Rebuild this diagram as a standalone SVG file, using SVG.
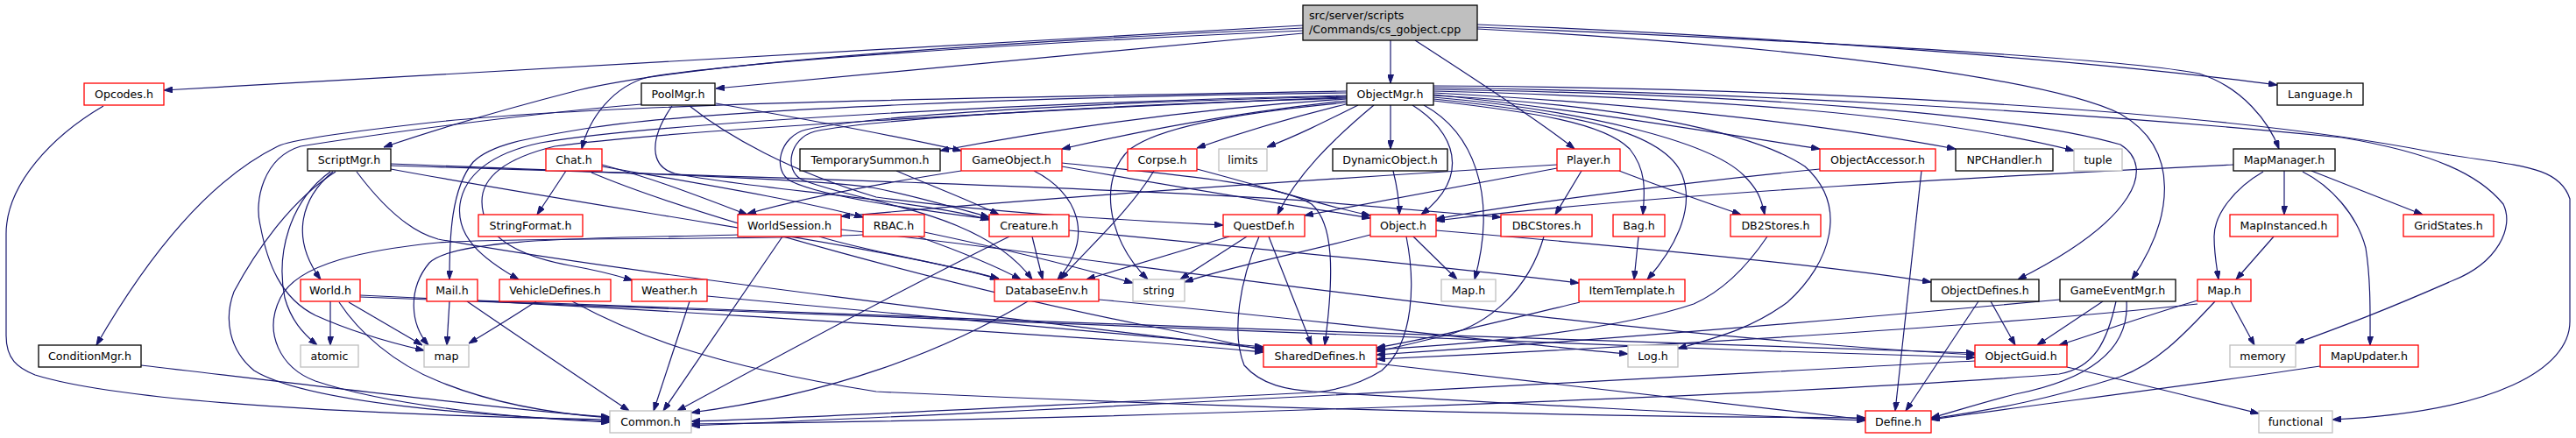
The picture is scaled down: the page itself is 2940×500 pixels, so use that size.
<svg xmlns="http://www.w3.org/2000/svg" width="2940" height="500" viewBox="0 0 2940 500">
<style>
rect{fill:#fff;stroke-width:1.3}
.r{stroke:#ff0000}.k{stroke:#000}.g{stroke:#bfbfbf}
.root{fill:#bfbfbf;stroke:#000}
text{font-family:"DejaVu Sans","Liberation Sans",sans-serif;font-size:12.6px;fill:#000;text-anchor:middle}
#edges path{fill:none;stroke:#191970;stroke-width:1.2;marker-end:url(#a)}
</style>
<defs><marker id="a" viewBox="0 0 10 7" refX="10" refY="3.5" markerWidth="10" markerHeight="7" markerUnits="userSpaceOnUse" orient="auto"><path d="M0,0L10,3.5L0,7z" fill="#191970" stroke="#191970"/></marker></defs>
<rect x="0" y="0" width="2940" height="500" style="fill:#fff;stroke:none"/>
<g id="edges">
<path d="M1487,29L187,103"/>
<path d="M1487,32C1150,48 800,70 660,103C590,121 520,140 438,168"/>
<path d="M1487,35C1150,50 850,70 740,88C700,98 672,135 664,170"/>
<path d="M1487,38L817,101"/>
<path d="M1587,46L1587,95"/>
<path d="M1615,46C1680,88 1760,140 1797,170"/>
<path d="M1686,28C2000,40 2400,70 2599,97"/>
<path d="M1686,31C2100,48 2430,68 2510,84C2560,100 2590,140 2601,170"/>
<path d="M1686,33C2100,55 2350,95 2420,130C2490,170 2480,250 2433,319"/>
<path d="M118,121C60,155 7,210 7,267L7,383C7,410 20,420 40,428C150,462 450,474 696,479"/>
<path d="M817,118C900,133 1000,150 1097,172"/>
<path d="M767,121C740,160 742,190 770,198C850,215 1050,228 1129,251"/>
<path d="M787,121C830,155 900,195 1000,225C1150,245 1300,252 1396,257"/>
<path d="M732,119C620,128 450,150 343,167C300,180 290,230 297,257C305,300 320,340 360,360C400,378 440,390 484,400"/>
<path d="M1537,104C1100,112 700,118 500,139C400,150 330,160 317,167C240,205 170,290 110,394"/>
<path d="M1537,106C1200,110 800,125 667,147C600,158 560,165 540,185C515,215 513,270 513,319"/>
<path d="M1537,109C1200,116 750,140 617,163C560,175 530,200 525,233C520,270 550,295 592,319"/>
<path d="M1537,111C1200,124 750,150 633,167C580,180 550,200 550,230C550,265 580,290 650,303C690,310 705,315 722,320"/>
<path d="M1537,113C1350,125 1200,148 1073,172"/>
<path d="M1537,115C1400,130 1300,150 1212,170"/>
<path d="M1540,118C1470,135 1420,150 1366,169"/>
<path d="M1550,120C1510,140 1480,155 1446,168"/>
<path d="M1537,110C1300,115 1000,130 920,148C890,155 880,195 903,207C940,225 1050,240 1129,250"/>
<path d="M1537,112C1300,118 1000,135 930,150C900,158 895,195 915,205C980,232 1120,240 1178,319"/>
<path d="M1568,120C1520,160 1480,200 1458,245"/>
<path d="M1537,117C1450,125 1330,140 1290,170C1255,200 1260,270 1310,319"/>
<path d="M1587,120L1587,170"/>
<path d="M1612,120C1660,150 1680,200 1622,245"/>
<path d="M1625,120C1680,150 1710,220 1683,319"/>
<path d="M1636,115C1750,128 1830,140 1860,170C1880,195 1877,220 1875,245"/>
<path d="M1636,113C1800,130 1900,150 1920,200C1935,240 1910,285 1880,319"/>
<path d="M1636,111C1800,125 1950,160 1990,200C2005,215 2010,225 2014,245"/>
<path d="M1636,108C1800,125 1950,150 2077,170"/>
<path d="M1636,106C1900,120 2100,145 2232,170"/>
<path d="M1636,104C1950,112 2200,130 2367,172"/>
<path d="M1636,102C2000,108 2300,130 2420,165C2460,190 2440,250 2303,319"/>
<path d="M1636,109C1850,120 2000,150 2060,190C2110,235 2090,300 2040,345C2000,375 1960,385 1915,398"/>
<path d="M1636,100C2000,105 2400,130 2673,157C2780,175 2830,200 2857,233C2870,260 2850,300 2800,320C2720,355 2680,370 2620,392"/>
<path d="M1636,98C2000,100 2500,120 2773,173C2870,190 2920,187 2933,227L2933,367C2933,420 2850,470 2662,479"/>
<path d="M380,196C345,225 330,270 366,319"/>
<path d="M377,196C330,230 315,290 325,340C332,365 345,380 362,394"/>
<path d="M383,196C330,230 290,290 267,333C255,365 262,400 290,423C350,460 550,475 696,481"/>
<path d="M446,187C700,197 950,205 1000,215C1050,225 1100,240 1129,248"/>
<path d="M446,189C800,200 1300,215 1500,230C1600,238 1660,243 1713,248"/>
<path d="M446,193C700,240 1000,280 1140,318"/>
<path d="M407,196C440,240 470,265 500,273C700,310 1200,370 1442,398"/>
<path d="M646,195L613,245"/>
<path d="M687,188C750,205 800,225 853,245"/>
<path d="M687,190C800,210 920,230 985,248"/>
<path d="M675,197C800,250 1100,330 1300,370C1380,385 1420,395 1442,400"/>
<path d="M893,270L757,469"/>
<path d="M842,268C700,272 520,270 490,300C465,330 468,370 489,394"/>
<path d="M935,270C1000,290 1080,300 1140,319"/>
<path d="M960,262C1300,300 1800,380 2254,405"/>
<path d="M985,268C850,275 600,270 500,277C420,285 340,300 320,340C300,380 320,420 360,435C450,465 600,478 696,482"/>
<path d="M1055,265C1150,285 1230,305 1293,323"/>
<path d="M1048,270C1090,285 1130,300 1165,319"/>
<path d="M1178,270L1190,319"/>
<path d="M1152,270C1050,320 900,400 773,469"/>
<path d="M1220,263C1450,285 1650,305 1802,323"/>
<path d="M1097,195C1000,210 920,225 853,244"/>
<path d="M1180,195C1230,220 1250,270 1207,319"/>
<path d="M1212,190C1350,215 1480,235 1564,249"/>
<path d="M1212,186C1350,200 1460,210 1497,233C1522,255 1523,310 1512,394"/>
<path d="M1317,195C1290,240 1240,285 1210,319"/>
<path d="M1366,193C1450,215 1510,235 1564,246"/>
<path d="M1403,270L1240,319"/>
<path d="M1423,270L1347,319"/>
<path d="M1448,270L1497,394"/>
<path d="M1437,270C1415,320 1405,380 1420,417C1440,440 1470,445 1500,447C1700,460 2000,475 2129,480"/>
<path d="M1590,195C1595,215 1597,230 1597,245"/>
<path d="M1613,270L1663,319"/>
<path d="M1564,268C1480,290 1400,305 1352,322"/>
<path d="M1605,270C1615,320 1615,390 1577,423C1550,440 1520,446 1500,448C1200,462 950,476 789,481"/>
<path d="M1639,263C1900,285 2100,305 2204,322"/>
<path d="M1805,195L1775,245"/>
<path d="M1848,195C1900,215 1950,232 1987,245"/>
<path d="M1777,192C1650,215 1560,232 1489,246"/>
<path d="M1777,188C1500,205 1200,225 960,247"/>
<path d="M1762,270C1745,330 1700,370 1650,383C1610,392 1590,398 1571,401"/>
<path d="M1870,270L1865,319"/>
<path d="M1803,345C1720,365 1640,385 1571,397"/>
<path d="M2017,270C1990,310 1960,335 1933,347C1850,375 1700,392 1571,399"/>
<path d="M2077,193C1900,210 1700,238 1639,250"/>
<path d="M2193,195L2163,469"/>
<path d="M2549,188C2300,200 1900,220 1639,252"/>
<path d="M2583,196C2550,215 2527,245 2527,270C2527,290 2530,305 2532,319"/>
<path d="M2607,195L2607,245"/>
<path d="M2628,196C2660,212 2690,245 2700,283C2706,320 2705,360 2705,394"/>
<path d="M2638,195L2765,245"/>
<path d="M2595,270L2552,319"/>
<path d="M2546,344L2573,394"/>
<path d="M2508,343C2450,360 2400,378 2350,394"/>
<path d="M2528,344C2490,385 2460,415 2420,430C2340,455 2280,467 2204,478"/>
<path d="M2508,347C2300,370 1900,395 1571,410"/>
<path d="M2400,344L2325,394"/>
<path d="M2427,344C2430,390 2400,430 2300,450C2260,460 2230,470 2204,477"/>
<path d="M2415,344C2405,390 2390,420 2350,427C2000,455 1200,480 789,484"/>
<path d="M2351,342C2100,365 1800,390 1571,405"/>
<path d="M2272,344L2300,394"/>
<path d="M2258,344L2175,469"/>
<path d="M2254,412C2000,425 1400,460 789,486"/>
<path d="M2359,419C2450,440 2520,458 2578,472"/>
<path d="M2648,418C2500,440 2300,465 2204,479"/>
<path d="M1571,415C1800,440 2000,465 2129,479"/>
<path d="M1173,344C1080,400 950,450 789,471"/>
<path d="M1254,342C1500,365 1700,390 1858,404"/>
<path d="M513,344L510,394"/>
<path d="M533,344C600,390 660,430 718,469"/>
<path d="M545,343C1000,360 1800,390 2254,403"/>
<path d="M612,344C580,365 555,380 535,392"/>
<path d="M653,344C720,380 800,415 1000,447C1500,470 1900,476 2129,477"/>
<path d="M787,344L746,469"/>
<path d="M807,338C1000,355 1300,385 1442,396"/>
<path d="M377,344L377,394"/>
<path d="M398,345L482,394"/>
<path d="M387,345C410,380 450,415 500,435C560,460 630,472 696,477"/>
<path d="M411,337C700,350 1000,370 1300,390C1380,396 1420,400 1442,402"/>
<path d="M411,339C900,360 1600,380 2000,400L2254,408"/>
<path d="M161,417C400,445 600,470 696,476"/>
<path d="M1023,195C1070,215 1110,230 1140,245"/>
</g>
<g id="root"><rect class="root" x="1487" y="6" width="199" height="40"/><text x="1494" y="22" style="text-anchor:start">src/server/scripts</text><text x="1494" y="38" style="text-anchor:start">/Commands/cs_gobject.cpp</text></g>
<g id="opcodes"><rect class="r" x="96" y="95" width="91" height="25"/><text x="141.5" y="112">Opcodes.h</text></g>
<g id="poolmgr"><rect class="k" x="732" y="95" width="84" height="25"/><text x="774" y="112">PoolMgr.h</text></g>
<g id="objectmgr"><rect class="k" x="1537" y="95" width="99" height="25"/><text x="1586.5" y="112">ObjectMgr.h</text></g>
<g id="language"><rect class="k" x="2599" y="95" width="98" height="25"/><text x="2648" y="112">Language.h</text></g>
<g id="scriptmgr"><rect class="k" x="351" y="170" width="95" height="25"/><text x="398.5" y="187">ScriptMgr.h</text></g>
<g id="chat"><rect class="r" x="623" y="170" width="64" height="25"/><text x="655" y="187">Chat.h</text></g>
<g id="tempsummon"><rect class="k" x="913" y="170" width="160" height="25"/><text x="993" y="187">TemporarySummon.h</text></g>
<g id="gameobject"><rect class="r" x="1097" y="170" width="115" height="25"/><text x="1154.5" y="187">GameObject.h</text></g>
<g id="corpse"><rect class="r" x="1287" y="170" width="79" height="25"/><text x="1326.5" y="187">Corpse.h</text></g>
<g id="limits"><rect class="g" x="1391" y="170" width="55" height="25"/><text x="1418.5" y="187">limits</text></g>
<g id="dynobj"><rect class="k" x="1521" y="170" width="131" height="25"/><text x="1586.5" y="187">DynamicObject.h</text></g>
<g id="player"><rect class="r" x="1777" y="170" width="72" height="25"/><text x="1813" y="187">Player.h</text></g>
<g id="objacc"><rect class="r" x="2077" y="170" width="132" height="25"/><text x="2143" y="187">ObjectAccessor.h</text></g>
<g id="npchandler"><rect class="k" x="2232" y="170" width="111" height="25"/><text x="2287.5" y="187">NPCHandler.h</text></g>
<g id="tuple"><rect class="g" x="2367" y="170" width="55" height="25"/><text x="2394.5" y="187">tuple</text></g>
<g id="mapmanager"><rect class="k" x="2549" y="170" width="116" height="25"/><text x="2607" y="187">MapManager.h</text></g>
<g id="stringformat"><rect class="r" x="546" y="245" width="119" height="25"/><text x="605.5" y="262">StringFormat.h</text></g>
<g id="worldsession"><rect class="r" x="842" y="245" width="118" height="25"/><text x="901" y="262">WorldSession.h</text></g>
<g id="rbac"><rect class="r" x="985" y="245" width="70" height="25"/><text x="1020" y="262">RBAC.h</text></g>
<g id="creature"><rect class="r" x="1129" y="245" width="91" height="25"/><text x="1174.5" y="262">Creature.h</text></g>
<g id="questdef"><rect class="r" x="1396" y="245" width="93" height="25"/><text x="1442.5" y="262">QuestDef.h</text></g>
<g id="object"><rect class="r" x="1564" y="245" width="75" height="25"/><text x="1601.5" y="262">Object.h</text></g>
<g id="dbcstores"><rect class="r" x="1713" y="245" width="104" height="25"/><text x="1765" y="262">DBCStores.h</text></g>
<g id="bag"><rect class="r" x="1841" y="245" width="59" height="25"/><text x="1870.5" y="262">Bag.h</text></g>
<g id="db2stores"><rect class="r" x="1975" y="245" width="103" height="25"/><text x="2026.5" y="262">DB2Stores.h</text></g>
<g id="mapinstanced"><rect class="r" x="2545" y="245" width="123" height="25"/><text x="2606.5" y="262">MapInstanced.h</text></g>
<g id="gridstates"><rect class="r" x="2743" y="245" width="103" height="25"/><text x="2794.5" y="262">GridStates.h</text></g>
<g id="world"><rect class="r" x="343" y="319" width="68" height="25"/><text x="377" y="336">World.h</text></g>
<g id="mail"><rect class="r" x="487" y="319" width="58" height="25"/><text x="516" y="336">Mail.h</text></g>
<g id="vehicledefines"><rect class="r" x="570" y="319" width="127" height="25"/><text x="633.5" y="336">VehicleDefines.h</text></g>
<g id="weather"><rect class="r" x="721" y="319" width="86" height="25"/><text x="764" y="336">Weather.h</text></g>
<g id="databaseenv"><rect class="r" x="1135" y="319" width="119" height="25"/><text x="1194.5" y="336">DatabaseEnv.h</text></g>
<g id="string"><rect class="g" x="1293" y="319" width="59" height="25"/><text x="1322.5" y="336">string</text></g>
<g id="map_h"><rect class="g" x="1645" y="319" width="62" height="25"/><text x="1676" y="336">Map.h</text></g>
<g id="itemtemplate"><rect class="r" x="1802" y="319" width="121" height="25"/><text x="1862.5" y="336">ItemTemplate.h</text></g>
<g id="objectdefines"><rect class="k" x="2204" y="319" width="123" height="25"/><text x="2265.5" y="336">ObjectDefines.h</text></g>
<g id="gameeventmgr"><rect class="k" x="2351" y="319" width="132" height="25"/><text x="2417" y="336">GameEventMgr.h</text></g>
<g id="map_red"><rect class="r" x="2508" y="319" width="61" height="25"/><text x="2538.5" y="336">Map.h</text></g>
<g id="conditionmgr"><rect class="k" x="44" y="394" width="117" height="25"/><text x="102.5" y="411">ConditionMgr.h</text></g>
<g id="atomic"><rect class="g" x="343" y="394" width="66" height="25"/><text x="376" y="411">atomic</text></g>
<g id="map"><rect class="g" x="484" y="394" width="51" height="25"/><text x="509.5" y="411">map</text></g>
<g id="shareddefines"><rect class="r" x="1442" y="394" width="129" height="25"/><text x="1506.5" y="411">SharedDefines.h</text></g>
<g id="log"><rect class="g" x="1858" y="394" width="57" height="25"/><text x="1886.5" y="411">Log.h</text></g>
<g id="objectguid"><rect class="r" x="2254" y="394" width="105" height="25"/><text x="2306.5" y="411">ObjectGuid.h</text></g>
<g id="memory"><rect class="g" x="2545" y="394" width="75" height="25"/><text x="2582.5" y="411">memory</text></g>
<g id="mapupdater"><rect class="r" x="2648" y="394" width="112" height="25"/><text x="2704" y="411">MapUpdater.h</text></g>
<g id="common"><rect class="g" x="696" y="469" width="93" height="25"/><text x="742.5" y="486">Common.h</text></g>
<g id="define"><rect class="r" x="2129" y="469" width="75" height="25"/><text x="2166.5" y="486">Define.h</text></g>
<g id="functional"><rect class="g" x="2578" y="469" width="84" height="25"/><text x="2620" y="486">functional</text></g>
</svg>
